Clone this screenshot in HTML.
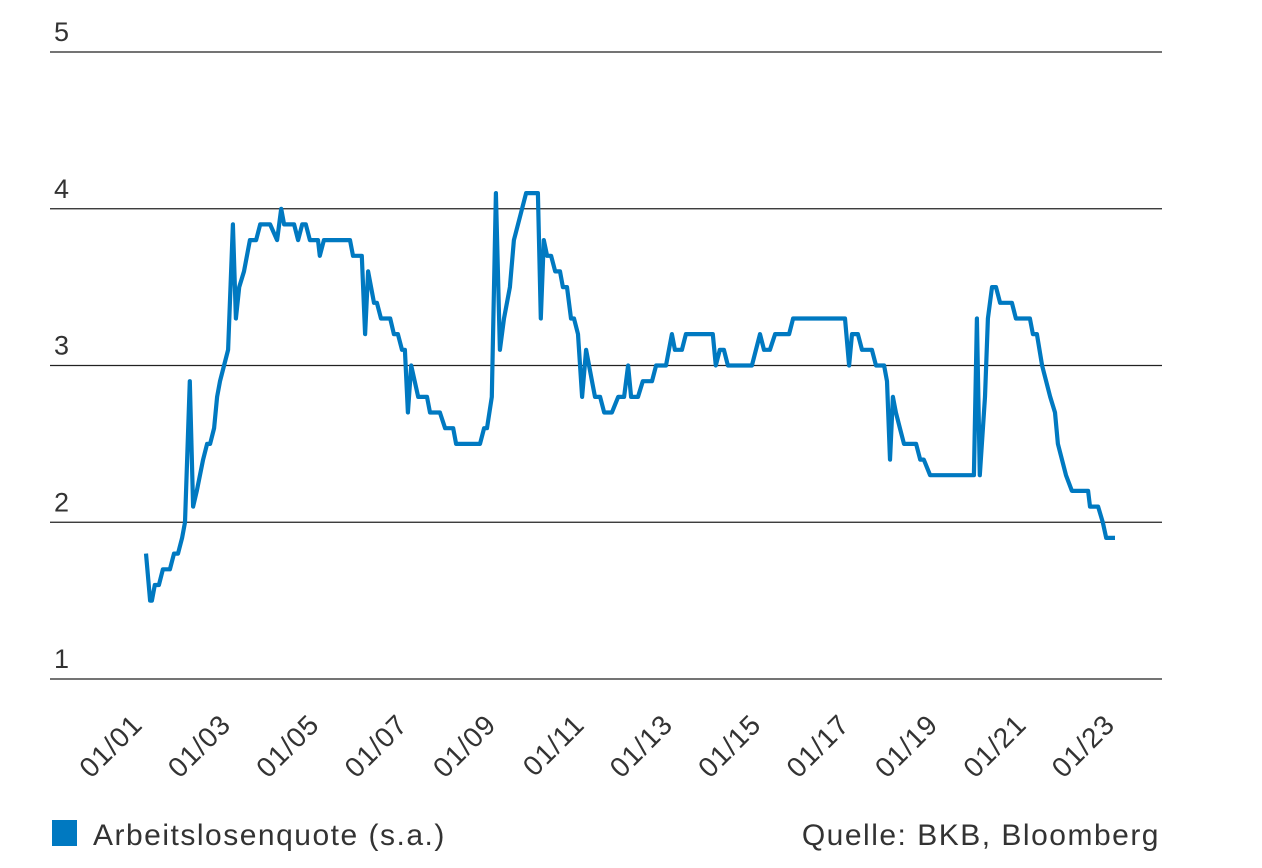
<!DOCTYPE html>
<html><head><meta charset="utf-8"><style>
body{margin:0;background:#fff;}
svg text{font-family:"Liberation Sans",sans-serif;fill:#333;}
</style></head><body>
<svg width="1262" height="863" viewBox="0 0 1262 863">
<g id="grid"></g>
<g id="yt"></g>
<g id="xt"></g>
<path id="line" fill="none" stroke="#0079c1" stroke-width="4.2" stroke-linejoin="round"/>
<rect x="52" y="820" width="25" height="26" fill="#0079c1"/>
<text x="93" y="845" font-size="30" letter-spacing="1.5">Arbeitslosenquote (s.a.)</text>
<text x="1160" y="845" font-size="30" letter-spacing="1.5" text-anchor="end">Quelle: BKB, Bloomberg</text>
</svg>
<script>
const yTicks=[1,2,3,4,5];
const xTickLabels=["01/01","01/03","01/05","01/07","01/09","01/11","01/13","01/15","01/17","01/19","01/21","01/23"];
const xTickMonths=[0,24,48,72,96,120,144,168,192,216,240,264];
const months=[0,1.1,1.6,2.4,3.5,4.6,6.5,7.6,8.7,9.8,10.6,11.9,12.8,13.8,15.5,16.6,17.4,18.5,19.3,20.1,22.3,23.6,24.4,25.3,26.6,28.2,29.9,31.0,33.7,35.6,36.7,37.5,40.2,41.3,42.4,43.4,44.5,46.7,47.2,48.3,55.4,56.2,58.6,59.5,60.3,61.9,62.7,63.8,66.3,67.3,68.4,69.5,70.3,71.1,72.0,73.9,76.3,77.1,79.8,81.2,83.4,84.2,90.7,91.8,92.6,93.9,95.0,96.1,97.2,98.8,99.9,101.0,103.2,106.4,107.2,108.0,108.9,110.0,111.1,112.4,113.2,114.3,115.4,116.2,117.3,118.4,119.5,121.1,121.9,123.3,124.4,126.5,128.2,129.8,130.9,131.7,133.6,134.9,137.4,138.5,141.2,142.8,143.6,145.5,146.6,153.9,154.7,155.8,156.9,158.0,159.9,164.5,166.7,167.8,169.4,170.8,174.6,175.7,189.8,190.9,191.7,193.3,194.4,197.1,198.2,200.4,201.2,202.0,202.8,203.6,204.7,205.8,209.1,210.2,211.2,212.9,224.8,225.6,226.4,227.8,228.6,229.7,230.8,231.9,235.1,236.2,240.0,240.8,241.9,243.3,245.5,246.8,247.6,249.8,251.4,255.8,256.3,258.5,259.8,260.7,263.1];
const rates=[1.8,1.5,1.5,1.6,1.6,1.7,1.7,1.8,1.8,1.9,2.0,2.9,2.1,2.2,2.4,2.5,2.5,2.6,2.8,2.9,3.1,3.9,3.3,3.5,3.6,3.8,3.8,3.9,3.9,3.8,4.0,3.9,3.9,3.8,3.9,3.9,3.8,3.8,3.7,3.8,3.8,3.7,3.7,3.2,3.6,3.4,3.4,3.3,3.3,3.2,3.2,3.1,3.1,2.7,3.0,2.8,2.8,2.7,2.7,2.6,2.6,2.5,2.5,2.6,2.6,2.8,4.1,3.1,3.3,3.5,3.8,3.9,4.1,4.1,3.3,3.8,3.7,3.7,3.6,3.6,3.5,3.5,3.3,3.3,3.2,2.8,3.1,2.9,2.8,2.8,2.7,2.7,2.8,2.8,3.0,2.8,2.8,2.9,2.9,3.0,3.0,3.2,3.1,3.1,3.2,3.2,3.0,3.1,3.1,3.0,3.0,3.0,3.2,3.1,3.1,3.2,3.2,3.3,3.3,3.0,3.2,3.2,3.1,3.1,3.0,3.0,2.9,2.4,2.8,2.7,2.6,2.5,2.5,2.4,2.4,2.3,2.3,3.3,2.3,2.8,3.3,3.5,3.5,3.4,3.4,3.3,3.3,3.2,3.2,3.0,2.8,2.7,2.5,2.3,2.2,2.2,2.1,2.1,2.0,1.9,1.9];
const NS="http://www.w3.org/2000/svg";
function yScale(v){return 679-(v-1)*156.75;}
function xScale(m){return 146+m*3.683;}
const grid=document.getElementById('grid'),yt=document.getElementById('yt'),xt=document.getElementById('xt');
yTicks.forEach(v=>{
 const l=document.createElementNS(NS,'line');
 l.setAttribute('x1',50);l.setAttribute('x2',1162);
 l.setAttribute('y1',yScale(v));l.setAttribute('y2',yScale(v));
 l.setAttribute('stroke','#222');l.setAttribute('stroke-width','1.2');
 
 
 grid.appendChild(l);
 const t=document.createElementNS(NS,'text');
 t.setAttribute('x',54);t.setAttribute('y',yScale(v)-11);t.setAttribute('font-size','27');
 t.textContent=v;
 
 
 yt.appendChild(t);
});
xTickLabels.forEach((s,i)=>{
 const x=xScale(xTickMonths[i])-16,y=712;
 const t=document.createElementNS(NS,'text');
 t.setAttribute('x',x);t.setAttribute('y',y);t.setAttribute('font-size','28');
 t.setAttribute('letter-spacing','1');
 t.setAttribute('text-anchor','end');
 t.setAttribute('transform','rotate(-45 '+x+' '+y+')');
 t.setAttribute('dy','20');
 t.textContent=s;
 
 
 xt.appendChild(t);
});
let d='';
months.forEach((m,i)=>{d+=(i?'L':'M')+xScale(m).toFixed(1)+','+yScale(rates[i]).toFixed(1);});
document.getElementById('line').setAttribute('d',d);
</script>
</body></html>
